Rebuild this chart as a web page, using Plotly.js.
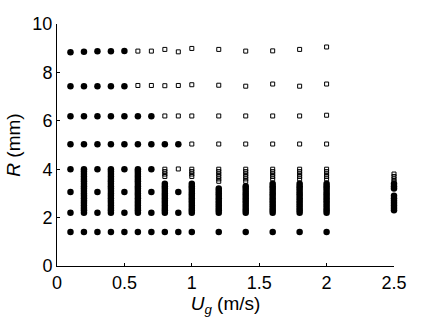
<!DOCTYPE html>
<html>
<head>
<meta charset="utf-8">
<script src="https://cdn.plot.ly/plotly-3.0.1.min.js"></script>
<style>html,body{margin:0;padding:0;background:#fff;}#chart{width:436px;height:322px;}</style>
</head>
<body>
<div id="chart"></div>
<script>
// Isolated filled points (rows)
const isoFilledUg = [
  0.1,0.2,0.3,0.4,0.5,
  0.1,0.2,0.3,0.4,0.5,
  0.1,0.2,0.3,0.4,0.5,0.6,0.7,
  0.1,0.2,0.3,0.4,0.5,0.6,0.7,0.8,0.9,
  0.1,0.3,0.5,0.7,
  0.1,0.3,0.5,0.7,0.9,
  0.1,0.3,0.5,0.7,0.9,
  0.1,0.2,0.3,0.4,0.5,0.6,0.7,0.8,0.9,1.0,1.2,1.4,1.6,1.8,2.0
];
const isoFilledR = [
  8.83,8.85,8.87,8.87,8.88,
  7.43,7.43,7.43,7.43,7.43,
  6.19,6.19,6.19,6.19,6.19,6.19,6.19,
  5.03,5.03,5.03,5.03,5.03,5.03,5.03,5.03,5.03,
  4.0,4.0,4.0,4.0,
  3.06,3.06,3.06,3.06,3.06,
  2.2,2.2,2.2,2.2,2.2,
  1.4,1.4,1.4,1.4,1.4,1.4,1.4,1.4,1.4,1.4,1.4,1.4,1.4,1.4,1.4
];
// Isolated open squares (rows)
const isoOpenUg = [
  0.6,0.7,0.8,0.9,1.0,1.2,1.4,1.6,1.8,2.0,
  0.6,0.7,0.8,0.9,1.0,1.2,1.4,1.6,1.8,2.0,
  0.8,0.9,1.0,1.2,1.4,1.6,1.8,2.0,
  1.0,1.2,1.4,1.6,1.8,2.0,
  0.9
];
const isoOpenR = [
  8.88,8.88,8.95,8.85,8.99,8.95,8.88,8.89,8.95,9.05,
  7.46,7.46,7.45,7.46,7.49,7.47,7.43,7.52,7.43,7.52,
  6.2,6.2,6.2,6.2,6.2,6.2,6.2,6.23,
  5.04,5.04,5.04,5.04,5.04,5.04,
  4.01
];
// Dense columns
const denseUg = [0.2,0.4,0.6,0.8,1.0,1.2,1.4,1.6,1.8,2.0,2.5];
const denseFilledR = [
  [2.2,2.3,2.4,2.5,2.6,2.7,2.8,2.9,3.0,3.1,3.2,3.3,3.4,3.5,3.6,3.7,3.8,3.9,4.0],
  [2.2,2.3,2.4,2.5,2.6,2.7,2.8,2.9,3.0,3.1,3.2,3.3,3.4,3.5,3.6,3.7,3.8,3.9,4.0],
  [2.2,2.3,2.4,2.5,2.6,2.7,2.8,2.9,3.0,3.1,3.2,3.3,3.4,3.5,3.6,3.7,3.8,3.9,4.0],
  [2.2,2.3,2.4,2.5,2.6,2.7,2.8,2.9,3.0,3.1,3.2,3.3,3.4],
  [2.2,2.3,2.4,2.5,2.6,2.7,2.8,2.9,3.0,3.1,3.2,3.3,3.4],
  [2.2,2.3,2.4,2.5,2.6,2.7,2.8,2.9,3.0,3.1,3.2],
  [2.2,2.3,2.4,2.5,2.6,2.7,2.8,2.9,3.0,3.1,3.2,3.3],
  [2.2,2.3,2.4,2.5,2.6,2.7,2.8,2.9,3.0,3.1,3.2,3.3,3.4],
  [2.2,2.3,2.4,2.5,2.6,2.7,2.8,2.9,3.0,3.1,3.2,3.3,3.4],
  [2.2,2.3,2.4,2.5,2.6,2.7,2.8,2.9,3.0,3.1,3.2,3.3,3.4],
  [2.3,2.4,2.5,2.6,2.7,2.8,2.9,3.2,3.3,3.4]
];
const denseOpenR = [
  [],
  [],
  [],
  [3.7,3.8,3.9,4.0],
  [3.7,3.8,3.9,4.0],
  [3.5,3.6,3.7,3.8,3.9,4.0],
  [3.5,3.6,3.7,3.8,3.9,4.0],
  [3.6,3.7,3.8,3.9,4.0],
  [3.6,3.7,3.8,3.9,4.0],
  [3.6,3.7,3.8,3.9,4.0],
  [3.5,3.6,3.7,3.8]
];
const xTicks = [0,0.5,1,1.5,2,2.5];
const xTickText = ['0','0.5','1','1.5','2','2.5'];
const yTicks = [0,2,4,6,8,10];
const yTickText = ['0','2','4','6','8','10'];

let fx = isoFilledUg.slice(), fy = isoFilledR.slice();
let ox = isoOpenUg.slice(), oy = isoOpenR.slice();
denseUg.forEach((u,i)=>{
  denseFilledR[i].forEach(r=>{fx.push(u); fy.push(r);});
  denseOpenR[i].forEach(r=>{ox.push(u); oy.push(r);});
});

const family = '"Liberation Sans", Arial, Helvetica, sans-serif';
const tickFont = {family:family, size:18, color:'#000'};
const titleFont = {family:family, size:19, color:'#000'};
const traces = [
  {x:fx, y:fy, type:'scatter', mode:'markers', cliponaxis:false,
   marker:{symbol:'circle', size:6.5, color:'#000', line:{width:0}}},
  {x:ox, y:oy, type:'scatter', mode:'markers', cliponaxis:false,
   marker:{symbol:'square-open', size:4, color:'#000', line:{width:1, color:'#111'}}}
];
const layout = {
  width:436, height:322,
  margin:{l:57, r:42, t:24, b:56, pad:0},
  paper_bgcolor:'#fff', plot_bgcolor:'#fff',
  showlegend:false,
  font:tickFont,
  xaxis:{range:[0,2.5], tickvals:xTicks, ticktext:xTickText, ticks:'inside', ticklen:3,
    tickcolor:'#000', showline:true, linecolor:'#000', linewidth:1, mirror:false,
    showgrid:false, zeroline:false, tickfont:tickFont, ticklabelstandoff:0,
    title:{text:'<i>U</i><sub><i>g</i></sub> (m/s)', font:titleFont, standoff:0}},
  yaxis:{range:[0,10], tickvals:yTicks, ticktext:yTickText, ticks:'inside', ticklen:3,
    tickcolor:'#000', showline:true, linecolor:'#000', linewidth:1, mirror:false,
    showgrid:false, zeroline:false, tickfont:tickFont,
    title:{text:'<i>R</i> (mm)', font:titleFont, standoff:6}}
};
Plotly.newPlot('chart', traces, layout, {displayModeBar:false, staticPlot:true});
</script>
</body>
</html>
